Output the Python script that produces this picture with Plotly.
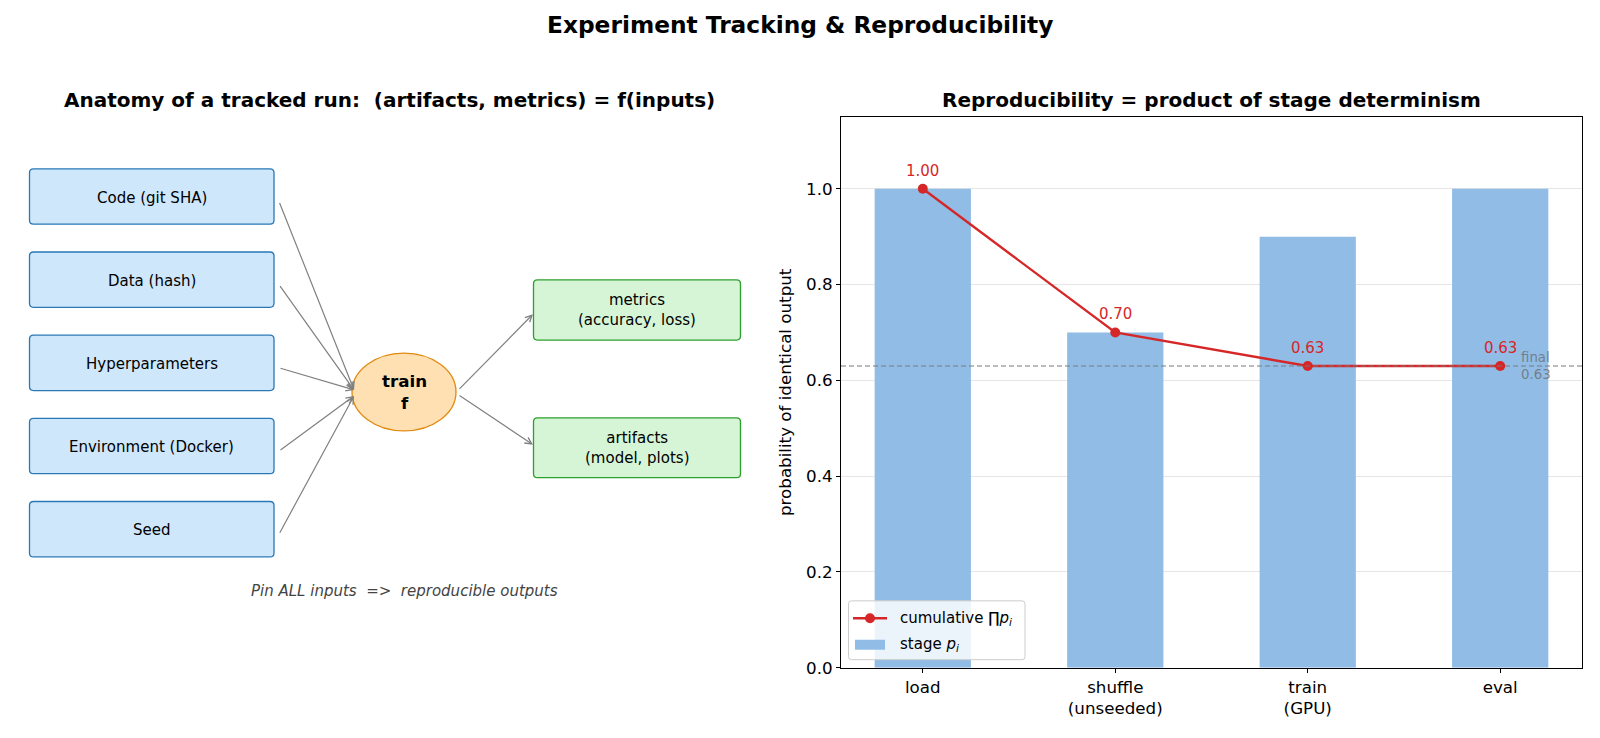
import plotly.graph_objects as go

# ---------------- data ----------------
stages = ["load", "shuffle<br>(unseeded)", "train<br>(GPU)", "eval"]
stage_p = [1.00, 0.70, 0.90, 1.00]
cumulative = [1.00, 0.70, 0.63, 0.63]
cum_labels = ["1.00", "0.70", "0.63", "0.63"]
final_value = 0.63
y_ticks = [0.0, 0.2, 0.4, 0.6, 0.8, 1.0]

inputs = ["Code (git SHA)", "Data (hash)", "Hyperparameters", "Environment (Docker)", "Seed"]
outputs = ["metrics<br>(accuracy, loss)", "artifacts<br>(model, plots)"]
legend_labels = ["cumulative ∏<i>p<sub>i</sub></i>", "stage <i>p<sub>i</sub></i>"]

FONT = "DejaVu Sans"
W, H = 1600, 738
HE = 730  # effective rendered height

F_TICK = 16.7
F_SMALL = 15
F_TITLE = 20
F_SUP = 23.3


def px(x):
    return x / W


def py(y):
    return 1 - y / HE


RED = "#d62728"
BLUE = "#90bce6"

fig = go.Figure()

# ---------------- right panel ----------------
fig.add_trace(go.Bar(
    x=list(range(len(stages))), y=stage_p, width=0.5,
    marker=dict(color=BLUE, line=dict(width=0)),
    name="stage p", xaxis="x", yaxis="y", hoverinfo="skip",
))
fig.add_trace(go.Scatter(
    x=list(range(len(stages))), y=cumulative, mode="lines+markers",
    line=dict(color=RED, width=2.4),
    marker=dict(color=RED, size=10),
    name="cumulative", xaxis="x", yaxis="y",
))

annotations = []
for i, (v, lab) in enumerate(zip(cumulative, cum_labels)):
    annotations.append(dict(x=i, y=v, xref="x", yref="y", text=lab, showarrow=False,
                            yanchor="bottom", yshift=7,
                            font=dict(family=FONT, size=F_SMALL, color=RED)))
annotations.append(dict(x=3.1, y=final_value, xref="x", yref="y", text="final<br>0.63",
                        showarrow=False, xanchor="left", yanchor="middle", align="left",
                        font=dict(family=FONT, size=13.3, color="rgba(110,110,110,0.8)")))

shapes = [dict(type="line", xref="x domain", yref="y", x0=0, x1=1, y0=final_value, y1=final_value,
               line=dict(color="#7a7a7a", width=1.2, dash="5px,3px"), layer="above")]


def rrect(x0, y0, x1, y1, r=4):
    return (f"M{x0+r},{y0} L{x1-r},{y0} Q{x1},{y0} {x1},{y0+r} L{x1},{y1-r} Q{x1},{y1} {x1-r},{y1} "
            f"L{x0+r},{y1} Q{x0},{y1} {x0},{y1-r} L{x0},{y0+r} Q{x0},{y0} {x0+r},{y0} Z")


# custom legend (pixel coords on hidden axes x3/y3)
shapes.append(dict(type="path", xref="x3", yref="y3", path=rrect(848.5, 602.5, 1025, 661.5, 3),
                   fillcolor="rgba(255,255,255,0.82)", line=dict(color="#cccccc", width=1), layer="above"))
shapes.append(dict(type="line", xref="x3", yref="y3", x0=853, x1=887, y0=620, y1=620,
                   line=dict(color=RED, width=2.4), layer="above"))
shapes.append(dict(type="circle", xref="x3", yref="y3", x0=865, x1=875, y0=615, y1=625,
                   fillcolor=RED, line=dict(color=RED, width=0), layer="above"))
shapes.append(dict(type="rect", xref="x3", yref="y3", x0=855, x1=885, y0=641.5, y1=651.5,
                   fillcolor=BLUE, line=dict(width=0), layer="above"))
for lab, yy in zip(legend_labels, [620, 646.5]):
    annotations.append(dict(x=898, y=yy, xref="x3", yref="y3", text=lab, showarrow=False,
                            xanchor="left", yanchor="middle",
                            font=dict(family=FONT, size=F_SMALL, color="black")))

# ---------------- left panel (pixel coordinates on hidden axes) ----------------
bx0, bx1, bh, top0, step = 29.5, 274, 55.5, 169.3, 83.4
for i, lab in enumerate(inputs):
    t = top0 + i * step
    shapes.append(dict(type="path", xref="x2", yref="y2", path=rrect(bx0, t, bx1, t + bh),
                       fillcolor="#cfe7fb", line=dict(color="#2a78b5", width=1.3), layer="above"))
    annotations.append(dict(x=(bx0 + bx1) / 2, y=t + bh / 2 + 1, xref="x2", yref="y2", text=lab,
                            showarrow=False, font=dict(family=FONT, size=F_SMALL, color="black")))
    hy = 391 if i < 3 else 397
    annotations.append(dict(x=354, y=hy, ax=279, ay=t + bh / 2 + 5, xref="x2", yref="y2",
                            axref="x2", ayref="y2", text="", showarrow=True, arrowhead=5,
                            arrowsize=1.1, arrowwidth=1.2, arrowcolor="#808080"))

# ellipse
shapes.append(dict(type="circle", xref="x2", yref="y2", x0=352, x1=456, y0=354, y1=432,
                   fillcolor="#ffe0b2", line=dict(color="#e08a10", width=1.3), layer="above"))
annotations.append(dict(x=404, y=393, xref="x2", yref="y2", text="<b>train<br>f</b>",
                        showarrow=False, font=dict(family=FONT, size=F_TICK, color="black")))

ox0, ox1 = 533.5, 740.5
out_boxes = [(280.7, 341), (419, 479)]
out_heads = [(533, 315), (533, 446)]
out_tails = [(458, 391.5), (458, 395.5)]
for lab, (t, b), (hx, hy), (tx, ty) in zip(outputs, out_boxes, out_heads, out_tails):
    shapes.append(dict(type="path", xref="x2", yref="y2", path=rrect(ox0, t, ox1, b),
                       fillcolor="#d6f5d6", line=dict(color="#2ca02c", width=1.3), layer="above"))
    annotations.append(dict(x=(ox0 + ox1) / 2, y=(t + b) / 2, xref="x2", yref="y2", text=lab,
                            showarrow=False, font=dict(family=FONT, size=F_SMALL, color="black")))
    annotations.append(dict(x=hx, y=hy, ax=tx, ay=ty, xref="x2", yref="y2", axref="x2", ayref="y2",
                            text="", showarrow=True, arrowhead=5, arrowsize=1.1, arrowwidth=1.2,
                            arrowcolor="#808080"))

annotations.append(dict(x=404, y=593, xref="x2", yref="y2",
                        text="<i>Pin ALL inputs  =>  reproducible outputs</i>", showarrow=False,
                        font=dict(family=FONT, size=F_SMALL, color="#444444")))

# titles
annotations.append(dict(x=px(800), y=py(24.5), xref="paper", yref="paper", xanchor="center",
                        text="<b>Experiment Tracking & Reproducibility</b>", showarrow=False,
                        yanchor="middle", font=dict(family=FONT, size=F_SUP, color="black")))
annotations.append(dict(x=px(389), y=py(100), xref="paper", yref="paper", xanchor="center",
                        text="<b>Anatomy of a tracked run:  (artifacts, metrics) = f(inputs)</b>",
                        showarrow=False, yanchor="middle", font=dict(family=FONT, size=F_TITLE, color="black")))
annotations.append(dict(x=px(1211.5), y=py(100), xref="paper", yref="paper", xanchor="center",
                        text="<b>Reproducibility = product of stage determinism</b>",
                        showarrow=False, yanchor="middle", font=dict(family=FONT, size=F_TITLE, color="black")))

fig.update_layout(
    width=W, height=H,
    margin=dict(l=0, r=0, t=0, b=0),
    paper_bgcolor="white", plot_bgcolor="rgba(0,0,0,0)",
    font=dict(family=FONT, size=F_TICK, color="black"),
    showlegend=False,
    xaxis=dict(domain=[px(841), px(1582)], range=[-0.425, 3.425],
               tickmode="array", tickvals=list(range(len(stages))), ticktext=stages,
               showline=True, linecolor="black", linewidth=1, mirror=True,
               ticks="outside", ticklen=4, tickcolor="black", showgrid=False, zeroline=False,
               tickfont=dict(family=FONT, size=F_TICK), fixedrange=True),
    yaxis=dict(domain=[py(669.5), py(117.3)], range=[0, 1.15],
               tickmode="array", tickvals=y_ticks, ticktext=[f"{v:.1f}" for v in y_ticks],
               showline=True, linecolor="black", linewidth=1, mirror=True,
               ticks="outside", ticklen=4, tickcolor="black",
               showgrid=True, gridcolor="#e6e6e6", gridwidth=1, zeroline=False,
               tickfont=dict(family=FONT, size=F_TICK), fixedrange=True,
               title=dict(text="probability of identical output", standoff=10,
                          font=dict(family=FONT, size=F_TICK))),
    xaxis2=dict(domain=[0, 0.5], range=[0, 800], visible=False, fixedrange=True, anchor="y2"),
    yaxis2=dict(domain=[0, 1], range=[HE, 0], visible=False, fixedrange=True, anchor="x2"),
    xaxis3=dict(domain=[0.5, 1], range=[800, 1600], visible=False, fixedrange=True, anchor="y3"),
    yaxis3=dict(domain=[0, 1], range=[HE, 0], visible=False, fixedrange=True, anchor="x3"),
    shapes=shapes,
    annotations=annotations,
)

fig.write_html("out.html")
